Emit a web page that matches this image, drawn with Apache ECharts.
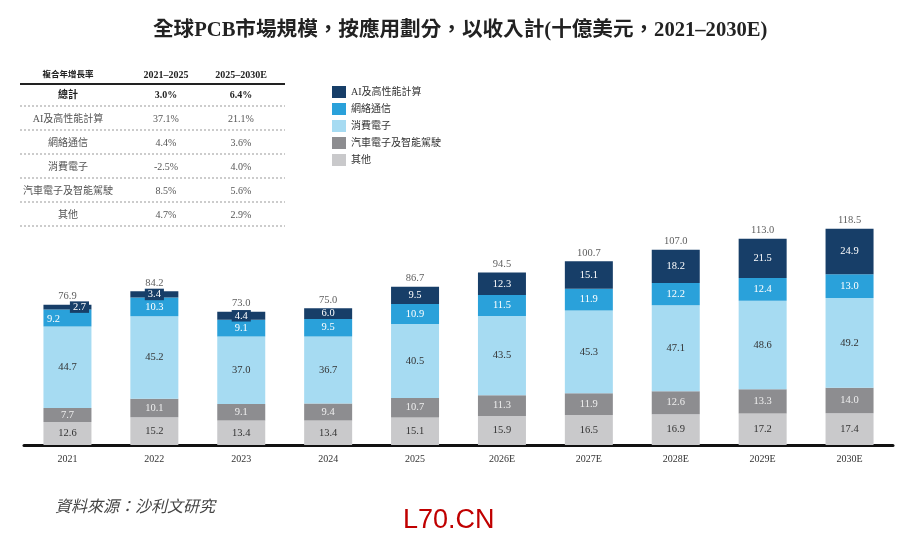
<!DOCTYPE html>
<html><head><meta charset="utf-8">
<script src="https://cdn.jsdelivr.net/npm/echarts@6/dist/echarts.min.js"></script>
<style>html,body{margin:0;padding:0;background:#fff}#c{width:900px;height:540px}</style>
</head><body><div id="c"></div>
<script>
const categories = ['2021','2022','2023','2024','2025','2026E','2027E','2028E','2029E','2030E'];
const others   = [12.6,15.2,13.4,13.4,15.1,15.9,16.5,16.9,17.2,17.4];
const auto     = [7.7,10.1,9.1,9.4,10.7,11.3,11.9,12.6,13.3,14.0];
const consumer = [44.7,45.2,37.0,36.7,40.5,43.5,45.3,47.1,48.6,49.2];
const network  = [9.2,10.3,9.1,9.5,10.9,11.5,11.9,12.2,12.4,13.0];
const ai       = [2.7,3.4,4.4,6.0,9.5,12.3,15.1,18.2,21.5,24.9];
const totals   = [76.9,84.2,73.0,75.0,86.7,94.5,100.7,107.0,113.0,118.5];
const seriesNames = ['AI及高性能計算','網絡通信','消費電子','汽車電子及智能駕駛','其他'];
const tableHeader = ['複合年增長率','2021–2025','2025–2030E'];
const tableRows = ['總計','AI及高性能計算','網絡通信','消費電子','汽車電子及智能駕駛','其他'];
const cagr2125 = ['3.0%','37.1%','4.4%','-2.5%','8.5%','4.7%'];
const cagr2530 = ['6.4%','21.1%','3.6%','4.0%','5.6%','2.9%'];

const SERIF = '"Liberation Serif","Noto Sans CJK TC",serif';
const colors = {ai:'#173e68', net:'#2aa1da', con:'#a6dbf2', auto:'#8d8d90', oth:'#c9c9cb'};
const fmt = p => Number(p.value).toFixed(1);

function mkData(arr, overrides){
  return arr.map((v,i)=> overrides && overrides[i] ? {value:v, label:overrides[i]} : v);
}
const badge = {backgroundColor: colors.ai, padding:[1,3,0,3]};
const aiData = mkData(ai, {0: Object.assign({offset:[12,0]}, badge), 1: badge, 2: badge});
const netData = mkData(network, {0:{offset:[-14,1]}});

function barSeries(name, data, color, labelColor){
  return {
    name, type:'bar', stack:'t', data, barWidth:48,
    itemStyle:{color},
    label:{show:true, position:'inside', color:labelColor, fontFamily:SERIF, fontSize:10.5, formatter:fmt}
  };
}

// table graphics
const g = [];
const colX = [68,166,241];
tableHeader.forEach((t,i)=> g.push({type:'text', x:colX[i], y:75, style:{text:t, fill:'#222', font:'bold '+(i===0?'8.5px ':'10px ')+SERIF, textAlign:'center', textVerticalAlign:'middle'}}));
g.push({type:'line', shape:{x1:20,y1:84,x2:285,y2:84}, style:{stroke:'#222', lineWidth:2}});
tableRows.forEach((r,i)=>{
  const y = 95 + i*24;
  const bold = i===0;
  const fill = bold ? '#222' : '#555';
  const font = (bold?'bold ':'')+'10px '+SERIF;
  [r, cagr2125[i], cagr2530[i]].forEach((t,j)=> g.push({type:'text', x:colX[j], y, style:{text:t, fill, font, textAlign:'center', textVerticalAlign:'middle'}}));
  g.push({type:'line', shape:{x1:20,y1:y+11,x2:285,y2:y+11}, style:{stroke:'#999', lineWidth:1, lineDash:[2,2]}});
});
g.push({type:'text', left:55, top:500, style:{text:'資料來源：沙利文研究', fill:'#444', font:'italic 16px '+SERIF}});
g.push({type:'text', left:403, top:507, style:{text:'L70.CN', fill:'#c00000', font:'27px "Liberation Sans",Arial,sans-serif'}});

const chart = echarts.init(document.getElementById('c'));
chart.setOption({
  animation:false,
  title:{text:'全球PCB市場規模，按應用劃分，以收入計(十億美元，2021–2030E)', left:148, top:15,
    textStyle:{fontFamily:SERIF, fontWeight:'bold', fontSize:20.6, color:'#222'}},
  legend:{orient:'vertical', left:327, top:81, itemWidth:14, itemHeight:12, itemGap:5, icon:'rect',
    data:seriesNames, textStyle:{fontFamily:SERIF, fontSize:10, color:'#333'}},
  grid:{left:24, right:7, top:226, bottom:95},
  xAxis:{type:'category', data:categories,
    axisLine:{lineStyle:{color:'#111', width:3}}, axisTick:{show:false},
    axisLabel:{fontFamily:SERIF, fontSize:10, color:'#333', margin:9}},
  yAxis:{type:'value', min:0, max:120, show:false, splitLine:{show:false}},
  series:[
    barSeries(seriesNames[4], others, colors.oth, '#333'),
    barSeries(seriesNames[3], auto, colors.auto, '#eee'),
    barSeries(seriesNames[2], consumer, colors.con, '#333'),
    barSeries(seriesNames[1], netData, colors.net, '#fff'),
    barSeries(seriesNames[0], aiData, colors.ai, '#fff'),
    {name:'總計', type:'scatter', data:totals, symbolSize:0, silent:true,
      label:{show:true, position:'top', distance:3, color:'#333', fontFamily:SERIF, fontSize:10.5, formatter:fmt}}
  ],
  graphic:g
});
</script></body></html>
